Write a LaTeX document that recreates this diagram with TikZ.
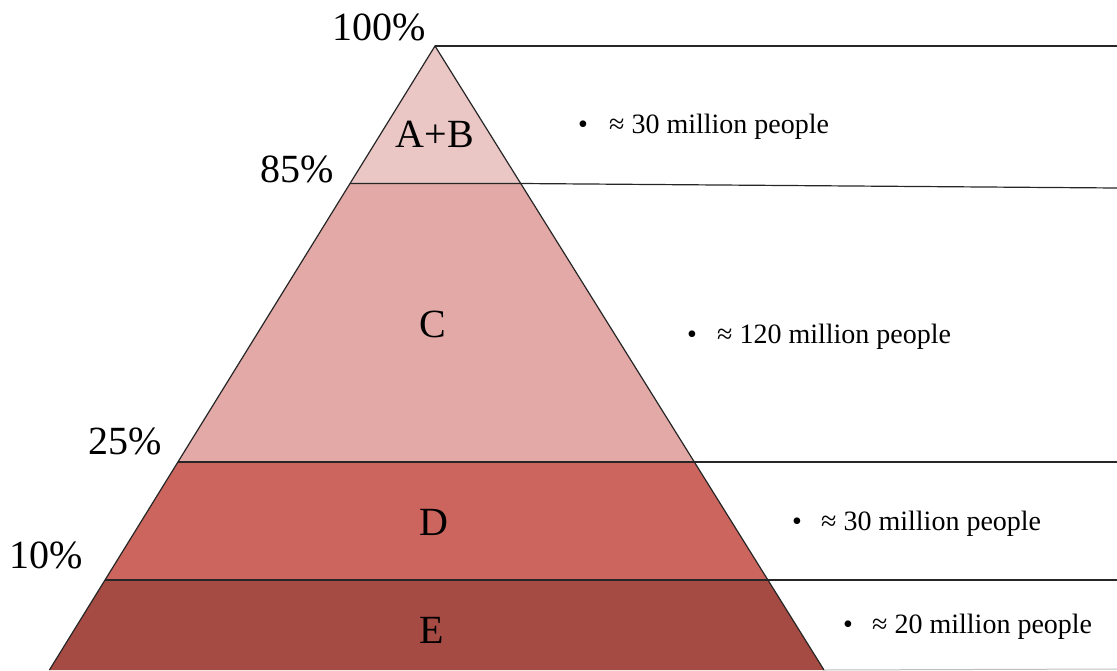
\documentclass[tikz,border=0pt]{standalone}
\usepackage{fontspec}
\setmainfont{Liberation Serif}
\definecolor{cAB}{HTML}{EAC6C5}
\definecolor{cC}{HTML}{E2A9A7}
\definecolor{cD}{HTML}{CB655E}
\definecolor{cE}{HTML}{A64B43}
\begin{document}
\begin{tikzpicture}[x=1pt,y=-1pt,
  edge/.style={draw=black!85,line width=1.2pt},
  big/.style={font=\fontsize{40}{40}\selectfont,inner sep=0pt},
  bul/.style={font=\fontsize{28}{28}\selectfont,inner sep=0pt}]
\useasboundingbox (0,0) rectangle (1117,670);
% key points
\coordinate (apex) at (435,46);
\coordinate (l1) at (350.3,183.5); \coordinate (r1) at (520.4,183.5);
\coordinate (l2) at (177.9,462);   \coordinate (r2) at (694.4,462);
\coordinate (l3) at (105,580);     \coordinate (r3) at (768,580);
\coordinate (l4) at (49.4,670);    \coordinate (r4) at (824,670);
\coordinate (e0) at (1117,46);
\coordinate (e1) at (1117,188);
\coordinate (e2) at (1117,462);
\coordinate (e3) at (1117,580);
\coordinate (e4) at (1117,669);
% bands
\fill[cAB] (apex) -- (r1) -- (l1) -- cycle;
\fill[cC] (l1) -- (r1) -- (r2) -- (l2) -- cycle;
\fill[cD] (l2) -- (r2) -- (r3) -- (l3) -- cycle;
\fill[cE] (l3) -- (r3) -- (r4) -- (l4) -- cycle;
% lines
\draw[edge] (l4) -- (apex) -- (r4);
\draw[edge] (apex) -- (e0);
\draw[edge] (l1) -- (r1) -- (e1);
\draw[edge] (l2) -- (e2);
\draw[edge] (l3) -- (e3);
\draw[black!25,line width=1pt] (r4) -- (e4);
% percentages
\node[big,anchor=base west] (p100) at (332,40) {100\%};
\node[big,anchor=base east] (p85) at (334,182) {85\%};
\node[big,anchor=base east] (p25) at (162,454) {25\%};
\node[big,anchor=base east] (p10) at (83,568) {10\%};
% band letters
\node[big,anchor=base] (tAB) at (435,147) {A+B};
\node[big,anchor=base] (tC) at (433,337) {C};
\node[big,anchor=base] (tD) at (434,535) {D};
\node[big,anchor=base] (tE) at (432,643) {E};
% bullets
\node[bul,anchor=base] (b1) at (583,133) {•};
\node[bul,anchor=base west] (t1) at (609,133) {≈ 30 million people};
\node[bul,anchor=base] (b2) at (692,343) {•};
\node[bul,anchor=base west] (t2) at (717,343) {≈ 120 million people};
\node[bul,anchor=base] (b3) at (797,530) {•};
\node[bul,anchor=base west] (t3) at (821,530) {≈ 30 million people};
\node[bul,anchor=base] (b4) at (848,633) {•};
\node[bul,anchor=base west] (t4) at (872,633) {≈ 20 million people};
\end{tikzpicture}
\end{document}
